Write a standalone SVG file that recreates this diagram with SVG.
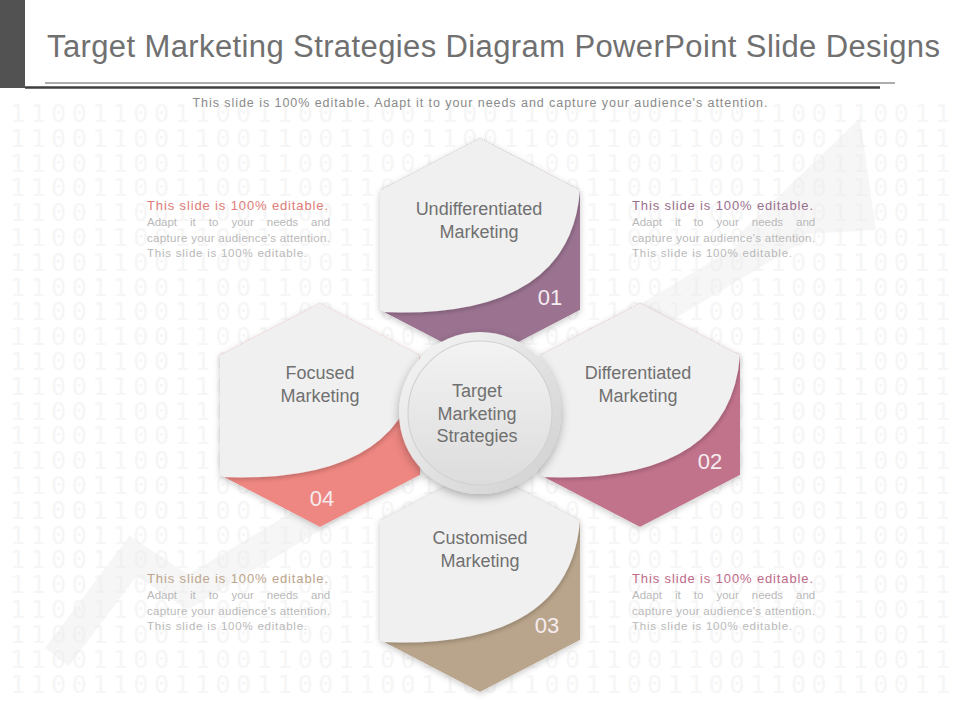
<svg xmlns="http://www.w3.org/2000/svg" xmlns:xlink="http://www.w3.org/1999/xlink" width="960" height="720" viewBox="0 0 960 720">
<style>
.bits{font-family:"DejaVu Sans Mono","Liberation Mono",monospace;font-size:25px;fill:#f6f6f6}
.face{fill:#f0f0f0}
.lbl{font-family:"Liberation Sans",Arial,sans-serif;font-size:18px;fill:#707070;text-anchor:middle}
.num{font-family:"Liberation Sans",Arial,sans-serif;font-size:22px;fill:#f6ecf0;text-anchor:middle}
.nt{font-family:"Liberation Sans",Arial,sans-serif;font-size:13px}
.nb{font-family:"Liberation Sans",Arial,sans-serif;font-size:11.5px;fill:#b9b9b9}
</style>
<defs>
<text id="bits" class="bits" x="10" y="0" textLength="940" lengthAdjust="spacing">1100110011001100110011001100110011001100110011</text>
<path id="hex" d="M0,-112 L100,-60 L100,60 L0,112 L-100,60 L-100,-60 Z"/>
<path id="white" d="M100,-60 Q90,70 -100,62 L-100,-60 L0,-112 Z"/>
<clipPath id="hexClip"><path d="M0,-112 L100,-60 L100,60 L0,112 L-100,60 L-100,-60 Z"/></clipPath>
<filter id="hexShadow" x="-20%" y="-20%" width="140%" height="140%">
<feDropShadow dx="0" dy="2" stdDeviation="3" flood-color="#000" flood-opacity="0.22"/>
</filter>
<filter id="curveShadow" x="-20%" y="-20%" width="140%" height="140%">
<feDropShadow dx="1" dy="2" stdDeviation="2" flood-color="#000" flood-opacity="0.2"/>
</filter>
<filter id="circShadow" x="-30%" y="-30%" width="160%" height="160%">
<feDropShadow dx="0" dy="3" stdDeviation="5" flood-color="#000" flood-opacity="0.3"/>
</filter>
<linearGradient id="ringGrad" x1="0" y1="0" x2="1" y2="1">
<stop offset="0" stop-color="#f6f6f6"/>
<stop offset="1" stop-color="#cfcfcf"/>
</linearGradient>
<linearGradient id="discGrad" x1="0" y1="0" x2="0" y2="1">
<stop offset="0" stop-color="#f3f3f3"/>
<stop offset="1" stop-color="#dcdcdc"/>
</linearGradient>
</defs>

<rect x="0" y="0" width="960" height="720" fill="#ffffff"/>

<g id="background-bits">
<use href="#bits" y="122"/>
<use href="#bits" y="147"/>
<use href="#bits" y="172"/>
<use href="#bits" y="196"/>
<use href="#bits" y="221"/>
<use href="#bits" y="246"/>
<use href="#bits" y="271"/>
<use href="#bits" y="296"/>
<use href="#bits" y="320"/>
<use href="#bits" y="345"/>
<use href="#bits" y="370"/>
<use href="#bits" y="395"/>
<use href="#bits" y="420"/>
<use href="#bits" y="444"/>
<use href="#bits" y="469"/>
<use href="#bits" y="494"/>
<use href="#bits" y="519"/>
<use href="#bits" y="544"/>
<use href="#bits" y="568"/>
<use href="#bits" y="593"/>
<use href="#bits" y="618"/>
<use href="#bits" y="643"/>
<use href="#bits" y="668"/>
<use href="#bits" y="693"/>
</g>

<g id="background-arrow" fill="#ececec" opacity="0.45">
<polyline points="57,657 133,556 188,592 800,226" fill="none" stroke="#ececec" stroke-width="30" stroke-linejoin="miter"/>
<polygon points="860,118 876,230 735,238"/>
</g>

<g id="header">
<rect x="0" y="0" width="25" height="88" fill="#525252"/>
<text x="47" y="57" font-family="Liberation Sans, Arial, sans-serif" font-size="31" fill="#707070" textLength="893" lengthAdjust="spacing">Target Marketing Strategies Diagram PowerPoint Slide Designs</text>
<line x1="45" y1="83" x2="895" y2="83" stroke="#5a5a5a" stroke-width="1"/>
<line x1="25" y1="87.5" x2="880" y2="87.5" stroke="#3f3f3f" stroke-width="2.5"/>
<text x="480" y="107" text-anchor="middle" font-family="Liberation Sans, Arial, sans-serif" font-size="12.5" fill="#8a8a8a" textLength="575" lengthAdjust="spacing">This slide is 100% editable. Adapt it to your needs and capture your audience's attention.</text>
</g>

<g id="connectors"/>

<g id="node-01" transform="translate(480,250)">
<g filter="url(#hexShadow)"><g clip-path="url(#hexClip)">
<use href="#hex" fill="#9b7391"/>
<use href="#white" class="face" filter="url(#curveShadow)"/>
</g></g>
<text class="lbl" x="-1" y="-35">Undifferentiated</text>
<text class="lbl" x="-1" y="-12">Marketing</text>
<text class="num" x="70" y="55">01</text>
</g>

<g id="node-02" transform="translate(640,415)">
<g filter="url(#hexShadow)"><g clip-path="url(#hexClip)">
<use href="#hex" fill="#c2738c"/>
<use href="#white" class="face" filter="url(#curveShadow)"/>
</g></g>
<text class="lbl" x="-2" y="-36">Differentiated</text>
<text class="lbl" x="-2" y="-13">Marketing</text>
<text class="num" x="70" y="54">02</text>
</g>

<g id="node-03" transform="translate(480,580)">
<g filter="url(#hexShadow)"><g clip-path="url(#hexClip)">
<use href="#hex" fill="#b9a58b"/>
<use href="#white" class="face" filter="url(#curveShadow)"/>
</g></g>
<text class="lbl" x="0" y="-36">Customised</text>
<text class="lbl" x="0" y="-13">Marketing</text>
<text class="num" x="67" y="53" fill="#f8efe4">03</text>
</g>

<g id="node-04" transform="translate(320,415)">
<g filter="url(#hexShadow)"><g clip-path="url(#hexClip)">
<use href="#hex" fill="#ee8681"/>
<use href="#white" class="face" filter="url(#curveShadow)"/>
</g></g>
<text class="lbl" x="0" y="-36">Focused</text>
<text class="lbl" x="0" y="-13">Marketing</text>
<text class="num" x="2" y="91">04</text>
</g>

<g id="center">
<circle cx="480" cy="413" r="81" fill="url(#ringGrad)" filter="url(#circShadow)"/>
<circle cx="480" cy="413" r="72" fill="url(#discGrad)" stroke="#d2d2d2" stroke-width="1.2"/>
<text class="lbl" x="477" y="397" fill="#777777">Target</text>
<text class="lbl" x="477" y="420" fill="#777777">Marketing</text>
<text class="lbl" x="477" y="442" fill="#777777">Strategies</text>
</g>

<g id="note-top-left">
<text class="nt" x="147" y="210" fill="#e07c77" textLength="181" lengthAdjust="spacing">This slide is 100% editable.</text>
<text class="nb" x="147" y="226" word-spacing="9.8">Adapt it to your needs and</text>
<text class="nb" x="147" y="242" textLength="183" lengthAdjust="spacing">capture your audience's attention.</text>
<text class="nb" x="147" y="257" textLength="160" lengthAdjust="spacing">This slide is 100% editable.</text>
</g>

<g id="note-top-right">
<text class="nt" x="632" y="210" fill="#9a6f8c" textLength="181" lengthAdjust="spacing">This slide is 100% editable.</text>
<text class="nb" x="632" y="226" word-spacing="9.8">Adapt it to your needs and</text>
<text class="nb" x="632" y="242" textLength="183" lengthAdjust="spacing">capture your audience's attention.</text>
<text class="nb" x="632" y="257" textLength="160" lengthAdjust="spacing">This slide is 100% editable.</text>
</g>

<g id="note-bottom-left">
<text class="nt" x="147" y="583" fill="#bca58c" textLength="181" lengthAdjust="spacing">This slide is 100% editable.</text>
<text class="nb" x="147" y="599" word-spacing="9.8">Adapt it to your needs and</text>
<text class="nb" x="147" y="615" textLength="183" lengthAdjust="spacing">capture your audience's attention.</text>
<text class="nb" x="147" y="630" textLength="160" lengthAdjust="spacing">This slide is 100% editable.</text>
</g>

<g id="note-bottom-right">
<text class="nt" x="632" y="583" fill="#c06a8a" textLength="181" lengthAdjust="spacing">This slide is 100% editable.</text>
<text class="nb" x="632" y="599" word-spacing="9.8">Adapt it to your needs and</text>
<text class="nb" x="632" y="615" textLength="183" lengthAdjust="spacing">capture your audience's attention.</text>
<text class="nb" x="632" y="630" textLength="160" lengthAdjust="spacing">This slide is 100% editable.</text>
</g>
</svg>
